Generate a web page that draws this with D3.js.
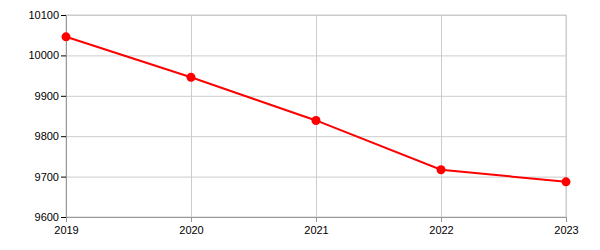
<!DOCTYPE html>
<html>
<head>
<meta charset="utf-8">
<script src="https://cdn.jsdelivr.net/npm/d3@7"></script>
<style>
  body { margin: 0; background: #fff; }
  svg { font-family: "Liberation Sans", Arial, sans-serif; }
  .grid line { stroke: #ccc; stroke-width: 1; }
  .grid .domain { display: none; }
  .axis text { font-size: 11px; fill: #000; }
  .line { fill: none; stroke: #ff0000; stroke-width: 2; }
</style>
</head>
<body>
<svg width="600" height="250"></svg>
<script>
var years = [2019, 2020, 2021, 2022, 2023];
var values = [10046, 9946, 9839, 9717, 9687];
var yTicks = [9600, 9700, 9800, 9900, 10000, 10100];

var svg = d3.select("svg"),
  margin = {top: 15, right: 34, bottom: 33, left: 66},
  width = svg.attr("width") - margin.left - margin.right,
  height = svg.attr("height") - margin.top - margin.bottom,
  g = svg.append("g").attr("transform", "translate(" + margin.left + "," + margin.top + ")");

var data = years.map(function(y, i) { return {year: y, value: values[i]}; });

var x = d3.scaleLinear().domain([2019, 2023]).range([0, width]),
  y = d3.scaleLinear().domain([9600, 10100]).range([height, 0]);

// grid
g.append("g")
  .attr("class", "grid")
  .call(d3.axisLeft(y).tickValues(yTicks).tickSize(-width).tickFormat(""));
g.append("g")
  .attr("class", "grid")
  .attr("transform", "translate(0," + height + ")")
  .call(d3.axisBottom(x).tickValues(years).tickSize(height).tickFormat(""))
  .selectAll("line").attr("y2", -height);
g.append("rect")
  .attr("width", width).attr("height", height)
  .attr("fill", "none").attr("stroke", "#ccc");

// axes
var xAxis = g.append("g")
  .attr("class", "axis axis--x")
  .attr("transform", "translate(0," + height + ")")
  .call(d3.axisBottom(x).tickValues(years).tickFormat(d3.format("d"))
    .tickSize(5).tickPadding(4).tickSizeOuter(0));
xAxis.select(".domain").attr("stroke", "#999");
xAxis.selectAll("line").attr("stroke", "#999");

var yAxis = g.append("g")
  .attr("class", "axis axis--y")
  .call(d3.axisLeft(y).tickValues(yTicks).tickFormat(d3.format("d"))
    .tickSize(5).tickPadding(2).tickSizeOuter(0));
yAxis.select(".domain").attr("stroke", "#999");
yAxis.selectAll("line").attr("stroke", "#000");

var line = d3.line()
  .x(function(d) { return x(d.year); })
  .y(function(d) { return y(d.value); });

g.append("path")
  .datum(data)
  .attr("class", "line")
  .attr("d", line);

g.selectAll(".dot")
  .data(data)
  .enter().append("circle")
  .attr("class", "dot")
  .attr("cx", function(d) { return x(d.year); })
  .attr("cy", function(d) { return y(d.value); })
  .attr("r", 4.5)
  .attr("fill", "#ff0000");
</script>
</body>
</html>
